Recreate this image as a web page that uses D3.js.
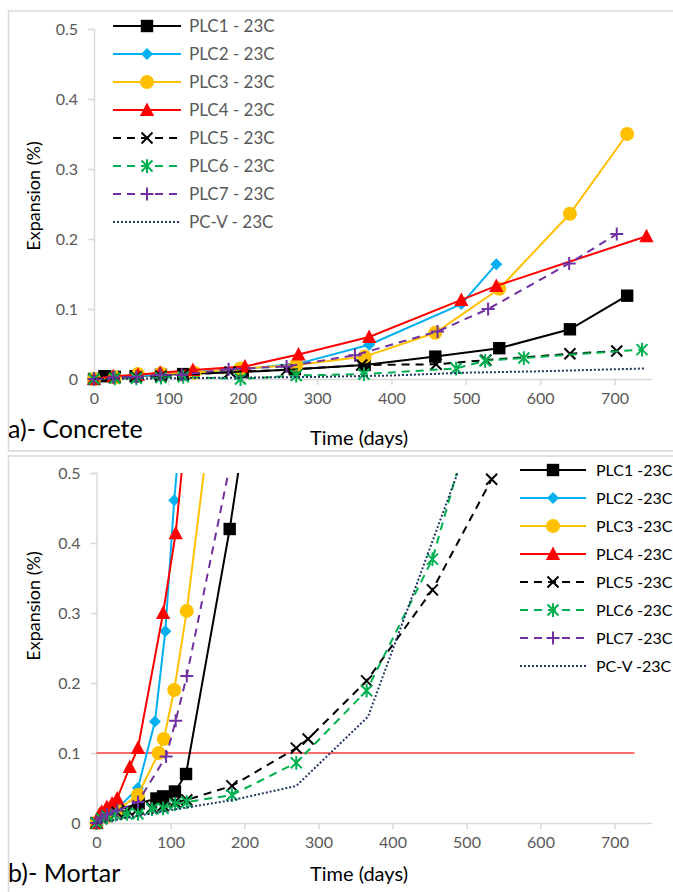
<!DOCTYPE html>
<html>
<head>
<meta charset="utf-8">
<script src="https://cdn.jsdelivr.net/npm/d3@7"></script>
<style>
  html, body { margin: 0; padding: 0; background: #fff; }
  svg { display: block; font-family: Lato, "Open Sans", "Liberation Sans", sans-serif; }
</style>
</head>
<body>
<svg id="chart" width="673" height="892"></svg>
<script>
// ---------------- DATA ----------------
const seriesNames = ["PLC1", "PLC2", "PLC3", "PLC4", "PLC5", "PLC6", "PLC7", "PC-V"];
const xTicks = [0, 100, 200, 300, 400, 500, 600, 700];
const yTicks = [0, 0.1, 0.2, 0.3, 0.4, 0.5];
const yTickLabels = ["0", "0.1", "0.2", "0.3", "0.4", "0.5"];
const limitValue = 0.1;      // mortar limit line
const limitEndDay = 727;

// a)- Concrete: [days, expansion %]
const concretePLC1 = [[0,0],[14,0.004],[28,0.003],[56,0.004],[90,0.006],[120,0.007],[200,0.010],[270,0.014],[364,0.020],[459,0.032],[545,0.044],[640,0.071],[717,0.119]];
const concretePLC2 = [[0,0],[28,0.002],[56,0.004],[90,0.007],[135,0.010],[200,0.014],[275,0.022],[370,0.049],[494,0.107],[541,0.164]];
const concretePLC3 = [[0,0],[28,0.002],[59,0.007],[90,0.008],[135,0.009],[197,0.015],[272,0.020],[364,0.032],[459,0.066],[545,0.129],[640,0.236],[717,0.350]];
const concretePLC4 = [[0,0],[26,0.004],[59,0.006],[89,0.009],[133,0.013],[203,0.018],[275,0.035],[370,0.060],[494,0.113],[541,0.133],[743,0.204]];
const concretePLC5 = [[0,0],[28,0.002],[57,0.003],[90,0.004],[120,0.006],[183,0.010],[259,0.013],[360,0.020],[460,0.021],[527,0.027],[640,0.036],[703,0.040]];
const concretePLC6 = [[0,0],[28,0.001],[57,0.001],[90,0.002],[120,0.003],[197,0.000],[272,0.005],[363,0.007],[487,0.015],[526,0.026],[578,0.030],[737,0.042]];
const concretePLC7 = [[0,0],[26,0.002],[57,0.003],[89,0.006],[118,0.006],[181,0.014],[259,0.018],[351,0.034],[462,0.068],[530,0.100],[639,0.165],[703,0.207]];
const concretePCV  = [[0,0],[100,0.001],[200,0.002],[300,0.003],[400,0.005],[500,0.009],[600,0.011],[740,0.015]];

// b)- Mortar: [days, expansion %]
const mortarPLC1 = [[0,0],[14,0.010],[28,0.018],[57,0.028],[81,0.035],[90,0.038],[106,0.045],[121,0.070],[180,0.420],[200,0.560]];
const mortarPLC2 = [[0,0],[7,0.008],[14,0.012],[28,0.020],[56,0.050],[79,0.145],[93,0.274],[105,0.461],[120,0.640]];
const mortarPLC3 = [[0,0],[14,0.010],[28,0.018],[56,0.040],[84,0.100],[91,0.120],[105,0.190],[122,0.303],[150,0.543]];
const mortarPLC4 = [[0,0],[4,0.012],[7,0.016],[14,0.023],[21,0.028],[28,0.035],[45,0.080],[56,0.107],[90,0.300],[107,0.414],[125,0.607]];
const mortarPLC5 = [[0,0],[7,0.006],[14,0.010],[28,0.015],[42,0.018],[56,0.020],[75,0.022],[90,0.025],[106,0.030],[122,0.033],[183,0.053],[270,0.107],[286,0.120],[365,0.203],[454,0.333],[534,0.491]];
const mortarPLC6 = [[0,0],[7,0.006],[14,0.010],[26,0.012],[41,0.013],[56,0.013],[75,0.020],[90,0.021],[106,0.027],[122,0.030],[183,0.040],[270,0.086],[365,0.189],[454,0.377],[540,0.700]];
const mortarPLC7 = [[0,0],[7,0.008],[14,0.012],[28,0.018],[56,0.030],[94,0.095],[107,0.146],[122,0.210],[182,0.520]];
const mortarPCV  = [[0,0],[86,0.016],[185,0.033],[270,0.053],[367,0.152],[540,0.650]];

// ---------------- STYLES ----------------
const styles = {
  "PLC1": { color: "#000000", dash: null,  marker: "square" },
  "PLC2": { color: "#00b0f0", dash: null,  marker: "diamond" },
  "PLC3": { color: "#ffc000", dash: null,  marker: "circle" },
  "PLC4": { color: "#ff0000", dash: null,  marker: "triangle" },
  "PLC5": { color: "#000000", dash: "8,6", marker: "x" },
  "PLC6": { color: "#00b050", dash: "8,6", marker: "asterisk" },
  "PLC7": { color: "#7030a0", dash: "8,6", marker: "plus" },
  "PC-V": { color: "#203864", dash: "2,2", marker: null }
};

const svg = d3.select("#chart");

function markerPath(type) {
  switch (type) {
    case "square":   { const r = 6.2; return `M${-r},${-r}h${2*r}v${2*r}h${-2*r}Z`; }
    case "diamond":  { const r = 6; return `M0,${-r}L${r},0L0,${r}L${-r},0Z`; }
    case "triangle": { const r = 7.5; return `M0,${-r}L${r*0.95},${r*0.8}L${-r*0.95},${r*0.8}Z`; }
    case "x":        { const r = 5.5; return `M${-r},${-r}L${r},${r}M${r},${-r}L${-r},${r}`; }
    case "asterisk": { const r = 5.5; return `M${-r},${-r}L${r},${r}M${r},${-r}L${-r},${r}M0,${-r*1.25}L0,${r*1.25}`; }
    case "plus":     { const r = 6.5; return `M${-r},0L${r},0M0,${-r}L0,${r}`; }
  }
  return "";
}

function drawMarker(g, type, color, x, y) {
  if (!type) return;
  if (type === "circle") {
    g.append("circle").attr("cx", x).attr("cy", y).attr("r", 7).attr("fill", color);
  } else if (type === "x" || type === "asterisk" || type === "plus") {
    g.append("path").attr("d", markerPath(type)).attr("transform", `translate(${x},${y})`)
      .attr("fill", "none").attr("stroke", color).attr("stroke-width", 2);
  } else {
    g.append("path").attr("d", markerPath(type)).attr("transform", `translate(${x},${y})`)
      .attr("fill", color);
  }
}

function drawPanel(cfg) {
  // frame
  svg.append("rect").attr("x", cfg.frame[0]).attr("y", cfg.frame[1])
    .attr("width", cfg.frame[2]).attr("height", cfg.frame[3])
    .attr("fill", "#fff").attr("stroke", "#d9d9d9").attr("stroke-width", 1.5);

  const x = d3.scaleLinear().domain([0, 750]).range([cfg.x0, cfg.x0 + 750 * cfg.pxPerDay]);
  const y = d3.scaleLinear().domain([0, 0.5]).range([cfg.y0, cfg.y0 - 350]);

  const g = svg.append("g");

  // y axis
  const yAxis = d3.axisLeft(y).tickValues(yTicks).tickSize(6).tickPadding(10)
    .tickFormat((d, i) => yTickLabels[i]);
  const ya = g.append("g").attr("transform", `translate(${cfg.x0},0)`).call(yAxis);
  ya.select(".domain").attr("stroke", "#d9d9d9").attr("stroke-width", 1.5);
  ya.selectAll(".tick line").attr("stroke", "#d9d9d9").attr("stroke-width", 1.5);
  ya.selectAll(".tick text").attr("fill", "#595959").style("font-size", "16px")
    .style("font-family", "Lato, sans-serif");

  // x axis
  const xAxis = d3.axisBottom(x).tickValues(xTicks).tickSize(6).tickPadding(8)
    .tickFormat(d3.format("d")).tickSizeOuter(0);
  const xa = g.append("g").attr("transform", `translate(0,${cfg.y0})`).call(xAxis);
  xa.select(".domain").attr("stroke", "#d9d9d9").attr("stroke-width", 1.5);
  xa.selectAll(".tick line").attr("stroke", "#d9d9d9").attr("stroke-width", 1.5);
  xa.selectAll(".tick text").attr("fill", "#595959").style("font-size", "16px")
    .style("font-family", "Lato, sans-serif");

  // clip for lines
  const clipId = "clip-" + cfg.id;
  svg.append("clipPath").attr("id", clipId).append("rect")
    .attr("x", cfg.x0 - 20).attr("y", y(0.5)).attr("width", 600).attr("height", 380);

  // limit line
  if (cfg.limit) {
    g.append("line").attr("x1", x(0)).attr("x2", x(limitEndDay))
      .attr("y1", y(limitValue)).attr("y2", y(limitValue))
      .attr("stroke", "#ff3b3b").attr("stroke-width", 1.3);
  }

  const line = d3.line().x(d => x(d[0])).y(d => y(d[1]));
  seriesNames.forEach((name, i) => {
    const s = styles[name];
    const data = cfg.data[i];
    g.append("path").datum(data).attr("d", line).attr("clip-path", `url(#${clipId})`)
      .attr("fill", "none").attr("stroke", s.color)
      .attr("stroke-width", 2)
      .attr("stroke-dasharray", s.dash);
    const mg = g.append("g");
    data.filter(d => d[1] <= 0.5).forEach(d => drawMarker(mg, s.marker, s.color, x(d[0]), y(d[1])));
  });

  // legend
  const lg = svg.append("g");
  seriesNames.forEach((name, i) => {
    const s = styles[name];
    const ly = cfg.legend.y + i * 28;
    lg.append("line").attr("x1", cfg.legend.x1).attr("x2", cfg.legend.x2)
      .attr("y1", ly).attr("y2", ly).attr("stroke", s.color).attr("stroke-width", 2)
      .attr("stroke-dasharray", s.dash);
    drawMarker(lg, s.marker, s.color, (cfg.legend.x1 + cfg.legend.x2) / 2, ly);
    lg.append("text").attr("x", cfg.legend.tx).attr("y", ly).attr("dy", "0.35em")
      .attr("fill", cfg.legend.color).style("font-size", cfg.legend.size)
      .text(name + cfg.suffix);
  });

  // axis titles
  svg.append("text").attr("transform", `translate(${cfg.ylab[0]},${cfg.ylab[1]}) rotate(-90)`)
    .attr("text-anchor", "middle").attr("dy", "0.35em").style("font-size", "18px")
    .attr("fill", "#000").text("Expansion (%)");
  svg.append("text").attr("x", cfg.xlab[0]).attr("y", cfg.xlab[1]).attr("dy", "0.35em")
    .attr("text-anchor", "middle").style("font-size", "20px").attr("fill", "#000")
    .text("Time (days)");
  svg.append("text").attr("x", cfg.title[0]).attr("y", cfg.title[1]).attr("dy", "0.35em")
    .style("font-size", "25px").attr("fill", "#000").text(cfg.titleText);
}

drawPanel({
  id: "concrete",
  frame: [8.5, 11, 680, 440],
  x0: 94, y0: 379, pxPerDay: 0.7436,
  data: [concretePLC1, concretePLC2, concretePLC3, concretePLC4, concretePLC5, concretePLC6, concretePLC7, concretePCV],
  legend: { x1: 113, x2: 181, tx: 189, y: 26, color: "#595959", size: "17px" },
  suffix: " - 23C",
  ylab: [34, 196], xlab: [359, 438], title: [8, 429], titleText: "a)- Concrete",
  limit: false
});

drawPanel({
  id: "mortar",
  frame: [8.5, 456, 680, 445],
  x0: 96.5, y0: 823, pxPerDay: 0.74,
  data: [mortarPLC1, mortarPLC2, mortarPLC3, mortarPLC4, mortarPLC5, mortarPLC6, mortarPLC7, mortarPCV],
  legend: { x1: 520, x2: 586, tx: 596, y: 470, color: "#000", size: "16px" },
  suffix: " -23C",
  ylab: [34, 606], xlab: [359, 874], title: [8, 873], titleText: "b)- Mortar",
  limit: true
});
</script>
</body>
</html>
